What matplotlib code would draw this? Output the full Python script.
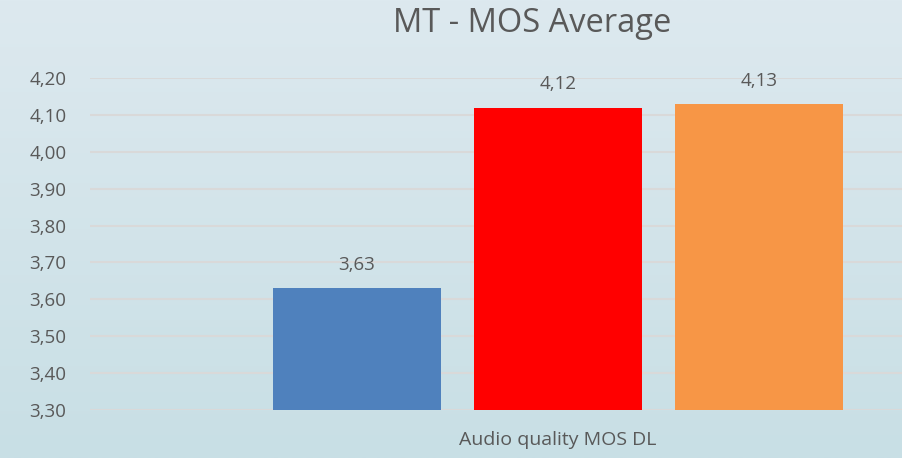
import numpy as np
import matplotlib.pyplot as plt
from matplotlib.colors import LinearSegmentedColormap

# chart data
title = "MT - MOS Average"
category = "Audio quality MOS DL"
series_values = [3.63, 4.12, 4.13]
series_colors = ["#4f81bd", "#ff0000", "#f79646"]
y_ticks = [3.30, 3.40, 3.50, 3.60, 3.70, 3.80, 3.90, 4.00, 4.10, 4.20]

text_color = "#595959"
plt.rcParams['font.family'] = ['Open Sans', 'DejaVu Sans']

fig = plt.figure(figsize=(9.02, 4.58), dpi=100)

# background gradient across the whole figure
bg = fig.add_axes([0, 0, 1, 1], zorder=-10)
grad = np.linspace(0, 1, 256).reshape(-1, 1)
cmap = LinearSegmentedColormap.from_list("bg", ["#dde9ef", "#c8dfe5"])
bg.imshow(grad, aspect="auto", cmap=cmap, extent=[0, 1, 0, 1], origin="upper")
bg.axis("off")

ax = fig.add_axes([90 / 902, 48 / 458, 812 / 902, 332 / 458])
ax.set_facecolor("none")

bar_width = 0.836
offsets = np.arange(len(series_values)) - (len(series_values) - 1) / 2
for off, val, col in zip(offsets, series_values, series_colors):
    ax.bar(off, val - y_ticks[0], bottom=y_ticks[0], width=bar_width,
           color=col, zorder=3)
    ax.text(off, val + 0.038, f"{val:.2f}".replace(".", ","), ha="center",
            va="bottom", fontsize=13.5, color=text_color)

ax.set_ylim(y_ticks[0], y_ticks[-1])
ax.set_xlim(-2.328, 1.711)
ax.set_yticks(y_ticks)
ax.set_yticklabels([f"{t:.2f}".replace(".", ",") for t in y_ticks],
                   fontsize=13.5, color=text_color)
ax.set_xticks([0])
ax.set_xticklabels([category], fontsize=14, color=text_color)
ax.tick_params(axis="y", length=0, pad=17)
ax.tick_params(axis="x", length=0, pad=15)
ax.yaxis.grid(True, color="#d9d9d9", linewidth=1.5, zorder=0)
ax.set_axisbelow(True)
for s in ax.spines.values():
    s.set_visible(False)

fig.text(532 / 902, 1 - 24 / 458, title, ha="center", va="center",
         fontsize=23.5, color=text_color)

fig.savefig("out.png", dpi=100)
